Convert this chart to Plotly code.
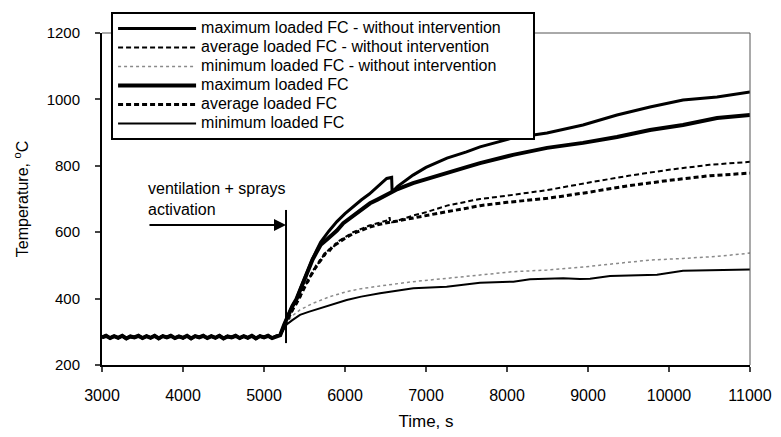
import plotly.graph_objects as go

# ---------------- data ----------------
BASE_T = list(range(3000, 5200, 50))  # shared pre-activation period
BASE_V = [283, 288, 281, 287, 282, 288, 280, 286, 283, 288, 281,
          287, 282, 288, 280, 287, 283, 288, 281, 286, 282, 288,
          280, 287, 283, 288, 281, 287, 282, 288, 280, 286, 283,
          288, 281, 287, 282, 288, 280, 287, 283, 288, 281, 287]

MAX_NI_T = [5200, 5250, 5300, 5350, 5400, 5450, 5500, 5550, 5600, 5650, 5700, 5800,
            5900, 6000, 6100, 6200, 6300, 6400, 6515, 6576, 6582, 6650, 6750, 6840,
            7000, 7259, 7500, 7667, 8074, 8494, 8938, 9358, 9765, 10173, 10593, 11000]
MAX_NI_V = [290, 322, 352, 377, 398, 430, 462, 492, 520, 546, 570, 603,
            632, 656, 677, 697, 715, 737, 762, 765, 721, 738, 757, 772,
            795, 823, 842, 857, 884, 899, 923, 953, 977, 998, 1007, 1022]

MAX_W_T = [5200, 5250, 5300, 5350, 5400, 5450, 5500, 5550, 5600, 5650, 5700, 5794,
           5900, 5979, 6144, 6309, 6400, 6515, 6582, 6650, 6840, 7000, 7259, 7500,
           7667, 8074, 8494, 8938, 9358, 9765, 10173, 10593, 11000]
MAX_W_V = [290, 322, 352, 377, 398, 430, 462, 492, 518, 540, 562, 582,
           605, 627, 657, 687, 698, 712, 721, 730, 748, 760, 781, 796,
           808, 833, 854, 869, 887, 908, 923, 944, 953]

AVG_NI_T = [5200, 5250, 5300, 5350, 5400, 5450, 5500, 5550, 5600, 5650, 5700, 5750,
            5800, 5850, 5900, 6000, 6100, 6200, 6300, 6400, 6500, 6540, 6550, 6560,
            6650, 6840, 7000, 7259, 7500, 7667, 8000, 8500, 9000, 9500, 10000, 10500, 11000]
AVG_NI_V = [290, 318, 345, 362, 392, 405, 440, 452, 485, 495, 522, 530,
            548, 553, 570, 585, 600, 610, 620, 627, 633, 637, 645, 628,
            635, 650, 660, 680, 692, 700, 710, 727, 749, 770, 788, 803, 812]

AVG_W_T = [5200, 5250, 5300, 5350, 5400, 5450, 5500, 5550, 5600, 5650, 5700, 5750,
           5800, 5850, 5900, 6000, 6100, 6200, 6300, 6400, 6500, 6650, 6840, 7000,
           7259, 7500, 7667, 8000, 8500, 9000, 9500, 10000, 10500, 11000]
AVG_W_V = [290, 314, 340, 366, 385, 410, 432, 458, 478, 500, 515, 535,
           542, 558, 565, 582, 596, 606, 615, 622, 628, 634, 643, 650,
           662, 672, 680, 690, 702, 720, 740, 756, 770, 778]

MIN_NI_T = [5200, 5250, 5280, 5350, 5444, 5605, 5815, 6021, 6200, 6432, 6840,
            7255, 7667, 8074, 8494, 8901, 9358, 9765, 10173, 10593, 11000]
MIN_NI_V = [290, 315, 328, 348, 366, 386, 406, 421, 430, 438, 451,
            461, 471, 481, 486, 494, 506, 516, 521, 527, 537]

MIN_W_T = [5200, 5250, 5280, 5350, 5444, 5550, 5691, 5850, 6021, 6200, 6432, 6844,
           7000, 7255, 7667, 8078, 8284, 8694, 8901, 9025, 9272, 9852, 10173, 10753, 11000]
MIN_W_V = [290, 312, 322, 335, 351, 360, 371, 385, 396, 406, 416, 431,
           433, 436, 448, 451, 458, 461, 459, 460, 468, 472, 484, 486, 488]

NAMES = ["maximum loaded FC - without intervention",
         "average loaded FC - without intervention",
         "minimum loaded FC - without intervention",
         "maximum loaded FC",
         "average loaded FC",
         "minimum loaded FC"]

X_TICKS = [3000, 4000, 5000, 6000, 7000, 8000, 9000, 10000, 11000]
X_TICK_TEXT = ["3000", "4000", "5000", "6000", "7000", "8000", "9000", "10000", "11000"]
Y_TICKS = [200, 400, 600, 800, 1000, 1200]

INTERVENTION_T = 5272      # ventilation + sprays activation time
MARKER_LINE_TEMPS = [266, 667]
ARROW_START_T = 3543
ARROW_TEMP = 622
LABEL_TEMP = 700
LABEL_TEXT = "ventilation + sprays<br>activation"

# ---------------- figure ----------------
series = [
    (MAX_NI_T, MAX_NI_V, dict(color="black", width=3)),
    (AVG_NI_T, AVG_NI_V, dict(color="black", width=2, dash="5px,3px")),
    (MIN_NI_T, MIN_NI_V, dict(color="#8a8a8a", width=1.5, dash="dot")),
    (MAX_W_T, MAX_W_V, dict(color="black", width=4)),
    (AVG_W_T, AVG_W_V, dict(color="black", width=3, dash="5px,3px")),
    (MIN_W_T, MIN_W_V, dict(color="black", width=2)),
]

fig = go.Figure()
for i, (name, (t, v, line)) in enumerate(zip(NAMES, series)):
    pad = "&#160;" * 6 if i == 0 else ""
    fig.add_trace(go.Scatter(
        x=BASE_T + t, y=BASE_V + v, mode="lines", line=line,
        name='<span style="font-size:16px">' + name + pad + "</span>"))

fig.add_shape(type="line", xref="x", yref="y",
              x0=INTERVENTION_T, x1=INTERVENTION_T,
              y0=MARKER_LINE_TEMPS[0], y1=MARKER_LINE_TEMPS[1],
              line=dict(color="black", width=2))
fig.add_annotation(x=INTERVENTION_T, y=ARROW_TEMP, ax=ARROW_START_T, ay=ARROW_TEMP,
                   xref="x", yref="y", axref="x", ayref="y", text=" ",
                   showarrow=True, arrowhead=2, arrowsize=1.2, arrowwidth=2,
                   arrowcolor="black", standoff=0)
fig.add_annotation(x=ARROW_START_T, y=LABEL_TEMP, xref="x", yref="y",
                   text=LABEL_TEXT, showarrow=False, xanchor="left", yanchor="middle",
                   align="left", font=dict(size=16, color="black"))

# thin top / right frame
fig.add_shape(type="line", xref="paper", yref="paper", x0=0, x1=1, y0=1, y1=1,
              line=dict(color="#555", width=1))
fig.add_shape(type="line", xref="paper", yref="paper", x0=1, x1=1, y0=0, y1=1,
              line=dict(color="#555", width=1))

fig.update_layout(
    width=781, height=437,
    margin=dict(l=102, r=31, t=33, b=72, autoexpand=False),
    paper_bgcolor="white", plot_bgcolor="white",
    font=dict(family="Liberation Sans, Arial, sans-serif", size=15, color="black"),
    showlegend=True,
    legend=dict(x=0.014, y=1.063, xanchor="left", yanchor="top",
                bgcolor="white", bordercolor="black", borderwidth=2,
                font=dict(size=12), itemwidth=78, tracegroupgap=0),
    xaxis=dict(range=[3000, 11000], tickvals=X_TICKS, ticktext=X_TICK_TEXT,
               ticks="outside", ticklen=5, automargin=False,
               tickwidth=1.5, showline=True, linewidth=2, linecolor="black",
               showgrid=False, zeroline=False, ticklabelstandoff=10,
               tickfont=dict(size=16),
               title=dict(text="Time, s", standoff=12, font=dict(size=17))),
    yaxis=dict(range=[200, 1200], tickvals=Y_TICKS, ticks="outside", ticklen=5,
               tickwidth=1.5, showline=True, linewidth=2, linecolor="black",
               showgrid=False, zeroline=False, ticklabelstandoff=12, automargin=False,
               tickfont=dict(size=15),
               title=dict(text="Temperature, <sup>o</sup>C", standoff=14,
                          font=dict(size=16))),
)

fig.write_html("out.html")
